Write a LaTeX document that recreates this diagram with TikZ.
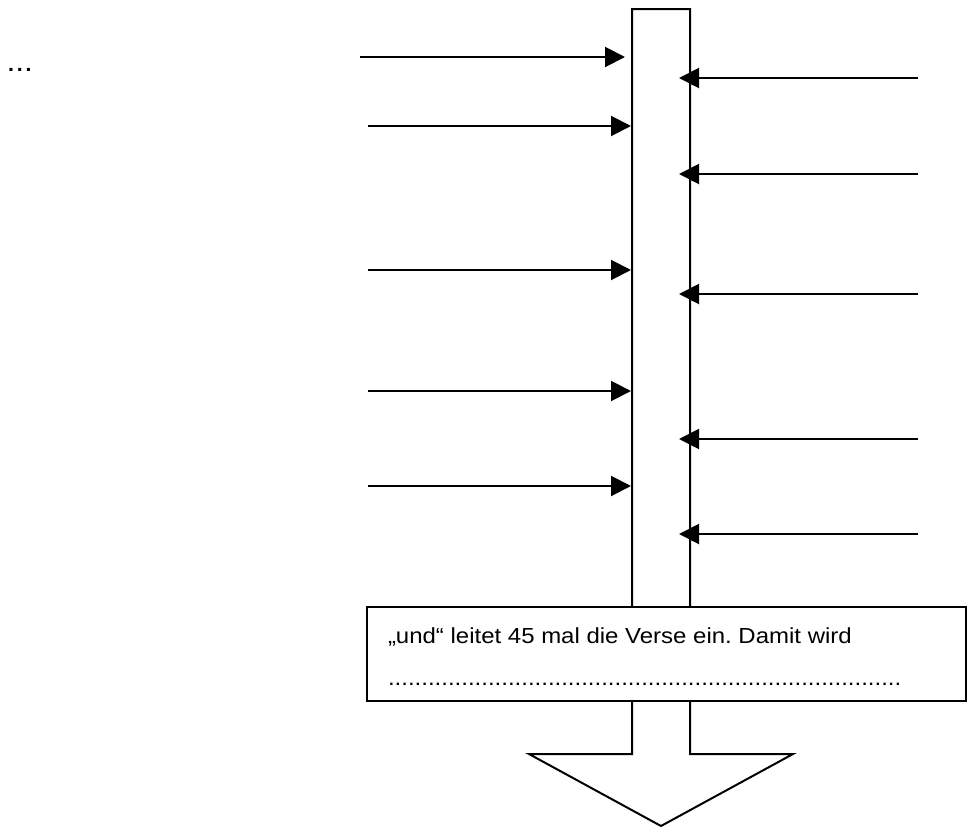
\documentclass[tikz,border=0pt]{standalone}
\usepackage{fontspec}
\setmainfont[FakeStretch=1.1]{Liberation Sans}
\frenchspacing
\usetikzlibrary{arrows.meta}
\usetikzlibrary{positioning}
\tikzset{
    signal/.style={draw=black, -{Triangle[length=20pt,width=20pt]}},
    shaft/.style={draw=black, fill=white},
    versbox/.style={draw=black, fill=white, minimum width=599pt, minimum height=94pt, inner sep=0pt},
    verstext/.style={anchor=base west, inner sep=0pt, font=\fontsize{21.8}{26}\selectfont},
}
\newcommand{\dotrow}{\foreach \k in {1,...,77}{.}}

\begin{document}
\begin{tikzpicture}[x=1pt, y=-1pt, line width=2pt]
	\useasboundingbox (0,0) rectangle (972,827);
	% Sammelpfeil
	\coordinate (shaftL) at (632,9);
	\coordinate (shaftR) at (690,9);
	\coordinate (tip) at (661,826);
	\draw[shaft] (shaftL)--(shaftR)--(690,754)--(793,754)--(tip)--(529,754)--(632,754)--cycle;
	% Pfeile links
	\foreach \n/\x/\y/\e in {1/360/57/625, 2/368/126/631, 3/368/270/631, 4/368/391/631, 5/368/486/631}{
		\coordinate (in\n) at (\x,\y);
		\coordinate (inend\n) at (\e,\y);
		\draw[signal] (in\n)--(inend\n);
	}
	% Pfeile rechts
	\foreach \n/\y in {1/78, 2/174, 3/294, 4/439, 5/534}{
		\coordinate (out\n) at (918,\y);
		\coordinate (outend\n) at (679,\y);
		\draw[signal] (out\n)--(outend\n);
	}
	% Kasten
	\node[versbox] (box) at (666.5,654) {};
	\node[verstext] (satz) at (387,643) {„und“ leitet 45 mal die Verse ein. Damit wird};
	\node[verstext] (luecke) at (387,685) {\dotrow};
	\node[anchor=base west, inner sep=0pt, font=\fontsize{29}{34}\selectfont] (punkte) at (5.5,71) {...};
\end{tikzpicture}
\end{document}
